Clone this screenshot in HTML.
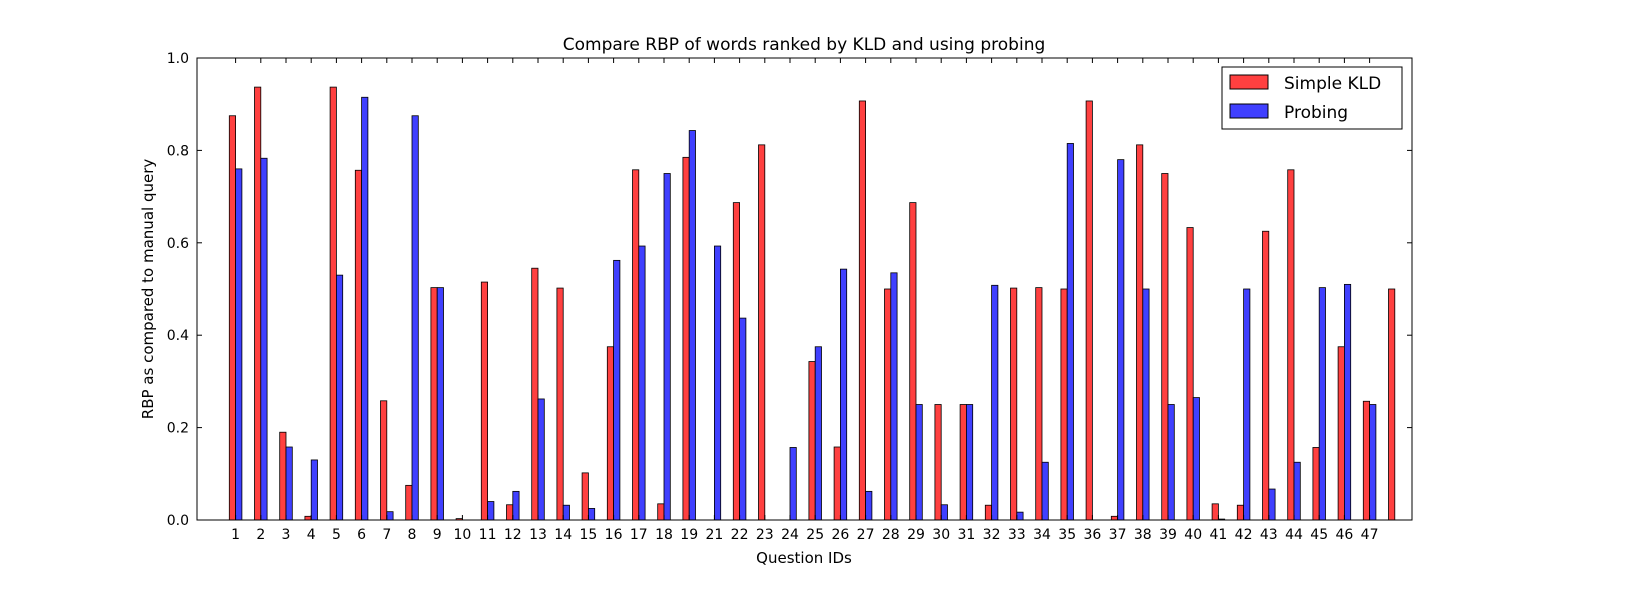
<!DOCTYPE html>
<html><head><meta charset="utf-8"><style>
body{margin:0;background:#fff;}
svg text{font-family:"DejaVu Sans","Liberation Sans",sans-serif;fill:#000;}
</style></head><body>
<svg width="1627" height="600">
<g id="bars"></g>
<g id="axes"></g>
<text x="804" y="50" font-size="17" text-anchor="middle">Compare RBP of words ranked by KLD and using probing</text>
<text x="804" y="563" font-size="15" text-anchor="middle">Question IDs</text>
<text transform="translate(153,289) rotate(-90)" font-size="15" text-anchor="middle">RBP as compared to manual query</text>
<g>
<rect x="1222" y="67" width="180" height="62" fill="#fff" stroke="#000" stroke-width="1"/>
<g><rect x="1230" y="75" width="38" height="14" fill="#ff4040" stroke="#000"/><text x="1284" y="89" font-size="17">Simple KLD</text></g>
<g><rect x="1230" y="104" width="38" height="14" fill="#4040ff" stroke="#000"/><text x="1284" y="118" font-size="17">Probing</text></g>
</g>
</svg>
<script>
const labels=["1","2","3","4","5","6","7","8","9","10","11","12","13","14","15","16","17","18","19","21","22","23","24","25","26","27","28","29","30","31","32","33","34","35","36","37","38","39","40","41","42","43","44","45","46","47",""];
const kld=[.875,.937,.19,.008,.937,.757,.258,.075,.503,.003,.515,.033,.545,.502,.102,.375,.758,.035,.785,0,.687,.812,0,.343,.158,.907,.5,.687,.25,.25,.032,.502,.503,.5,.907,.008,.812,.75,.633,.035,.032,.625,.758,.157,.375,.257,.5];
const probing=[.76,.783,.158,.13,.53,.915,.018,.875,.503,0,.04,.062,.262,.032,.025,.562,.593,.75,.843,.593,.437,0,.157,.375,.543,.062,.535,.25,.033,.25,.508,.017,.125,.815,0,.78,.5,.25,.265,.002,.5,.067,.125,.503,.51,.25,0];
const yTicks=[0,0.2,0.4,0.6,0.8,1.0];
const L=197,R=1412,T=58,B=520,unit=25.2,x0=229.3,bw=6.3;
const xs=i=>x0+unit*i, ys=v=>B-(B-T)*v;
const NS="http://www.w3.org/2000/svg";
const bars=document.getElementById('bars'),axes=document.getElementById('axes');
function mk(p,tag,a){const e=document.createElementNS(NS,tag);for(const k in a)e.setAttribute(k,a[k]);p.appendChild(e);return e;}
kld.forEach((v,i)=>{
 const r=mk(bars,'rect',{x:xs(i),y:ys(v),width:bw,height:B-ys(v),fill:'#ff4040',stroke:'#000','stroke-width':0.8});
 
 
 const b=mk(bars,'rect',{x:xs(i)+bw,y:ys(probing[i]),width:bw,height:B-ys(probing[i]),fill:'#4040ff',stroke:'#000','stroke-width':0.8});
 
 
});
mk(axes,'rect',{x:L,y:T,width:R-L,height:B-T,fill:'none',stroke:'#000','stroke-width':1});
yTicks.forEach(v=>{
 const y=ys(v);
 mk(axes,'line',{x1:L,x2:L+5,y1:y,y2:y,stroke:'#000'});
 mk(axes,'line',{x1:R,x2:R-5,y1:y,y2:y,stroke:'#000'});
 const t=mk(axes,'text',{x:L-8,y:y+5,'font-size':14,'text-anchor':'end'});
 t.textContent=v.toFixed(1);
 
 
});
labels.forEach((l,i)=>{
 if(!l)return;
 const x=xs(i)+bw;
 mk(axes,'line',{x1:x,x2:x,y1:B,y2:B-5,stroke:'#000'});
 mk(axes,'line',{x1:x,x2:x,y1:T,y2:T+5,stroke:'#000'});
 const t=mk(axes,'text',{x:x,y:B+19,'font-size':14,'text-anchor':'middle'});
 t.textContent=l;
 
 
});
</script>
</body></html>
